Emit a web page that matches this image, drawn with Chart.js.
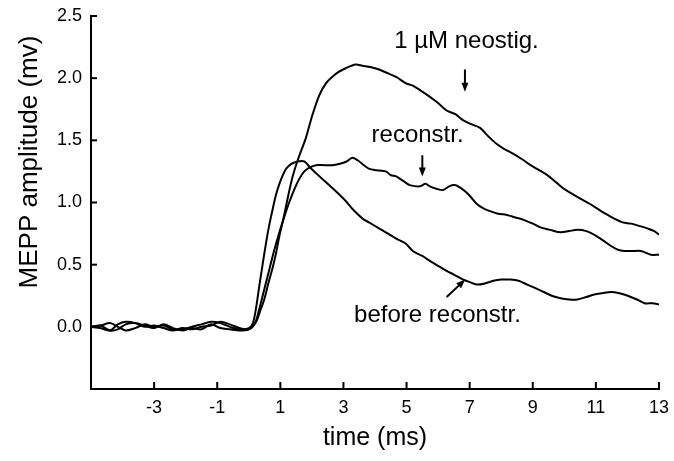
<!DOCTYPE html>
<html>
<head>
<meta charset="utf-8">
<script src="https://cdn.jsdelivr.net/npm/chart.js@4.4.0/dist/chart.umd.min.js"></script>
<style>
  html, body { margin: 0; padding: 0; background: #fff; }
  #wrap { width: 674px; height: 461px; }
</style>
</head>
<body>
<div id="wrap"><canvas id="chartMepp" width="674" height="461"></canvas></div>
<script>
// tick labels
const xTicks = [-3, -1, 1, 3, 5, 7, 9, 11, 13]
const yTicks = [0, 0.5, 1, 1.5, 2, 2.5]

// before reconstr. (time in ms, amplitude in mV)
const timeBefore = [-5, -4.7, -4.4, -4.15, -3.9, -3.6, -3.3, -3.0, -2.7, -2.4, -2.1, -1.8, -1.5, -1.2, -0.9, -0.6, -0.3, 0,
    0.13, 0.23, 0.34, 0.45, 0.55, 0.65, 0.76, 0.86, 0.97, 1.08,
    1.18, 1.35, 1.55, 1.76, 1.95, 2.2, 2.5, 2.76, 3.08, 3.28,
    3.61, 3.81, 4.14, 4.34, 4.67, 4.97, 5.2, 5.5, 5.74, 6.0,
    6.27, 6.5, 6.8, 7.0, 7.22, 7.5, 7.75, 8.0, 8.29, 8.55,
    8.82, 9.1, 9.35, 9.6, 9.88, 10.15, 10.41, 10.7, 10.95, 11.2,
    11.48, 11.75, 12.01, 12.3, 12.54, 12.8, 13.0]
const ampBefore = [0, 0.01, 0.03, 0.0, -0.03, -0.01, 0.02, 0.0, 0.01, -0.02, -0.02, 0.0, 0.02, 0.04, 0.03, 0.0, -0.02, -0.01,
    0.03, 0.15, 0.34, 0.52, 0.68, 0.82, 0.95, 1.06, 1.15, 1.22,
    1.27, 1.31, 1.33, 1.33, 1.28, 1.22, 1.15, 1.09, 1.01, 0.95,
    0.87, 0.84, 0.79, 0.76, 0.71, 0.67, 0.61, 0.57, 0.53, 0.49,
    0.45, 0.42, 0.38, 0.36, 0.34, 0.35, 0.37, 0.38, 0.38, 0.37,
    0.34, 0.31, 0.28, 0.25, 0.23, 0.22, 0.22, 0.24, 0.26, 0.27,
    0.28, 0.27, 0.25, 0.22, 0.19, 0.19, 0.18]

// reconstr.
const timeReconstr = [-5, -4.7, -4.4, -4.15, -3.9, -3.6, -3.3, -3.0, -2.7, -2.4, -2.1, -1.8, -1.5, -1.2, -0.9, -0.6, -0.3, 0,
    0.2, 0.34, 0.5, 0.65, 0.8, 0.97, 1.12, 1.28, 1.45, 1.6,
    1.76, 1.92, 2.13, 2.4, 2.65, 2.86, 3.1, 3.28, 3.45, 3.65,
    3.82, 4.05, 4.34, 4.5, 4.67, 4.97, 5.1, 5.42, 5.6, 5.74,
    5.95, 6.16, 6.35, 6.53, 6.7, 6.9, 7.05, 7.22, 7.45, 7.65,
    7.9, 8.18, 8.45, 8.71, 9.0, 9.24, 9.55, 9.88, 10.15, 10.41,
    10.7, 10.95, 11.2, 11.48, 11.7, 11.9, 12.15, 12.43, 12.75, 13.0]
const ampReconstr = [0, -0.01, -0.03, 0.02, 0.04, 0.03, 0.0, 0.01, -0.01, -0.03, -0.01, -0.02, 0.0, 0.01, 0.04, 0.02, -0.01, -0.02,
    0.03, 0.15, 0.31, 0.46, 0.61, 0.76, 0.88, 1.00, 1.11, 1.19,
    1.25, 1.28, 1.30, 1.30, 1.30, 1.31, 1.33, 1.36, 1.34, 1.30,
    1.27, 1.26, 1.25, 1.22, 1.21, 1.16, 1.14, 1.13, 1.15, 1.13,
    1.11, 1.10, 1.13, 1.14, 1.12, 1.08, 1.04, 0.99, 0.95, 0.93,
    0.91, 0.90, 0.88, 0.86, 0.83, 0.80, 0.78, 0.76, 0.77, 0.78,
    0.77, 0.74, 0.70, 0.65, 0.62, 0.61, 0.61, 0.61, 0.58, 0.58]

// 1 µM neostig.
const timeNeostig = [-5, -4.7, -4.4, -4.15, -3.9, -3.6, -3.3, -3.0, -2.7, -2.4, -2.1, -1.8, -1.5, -1.2, -0.9, -0.6, -0.3, 0,
    0.23, 0.35, 0.49, 0.62, 0.76, 0.87, 0.97, 1.08, 1.18, 1.28,
    1.39, 1.55, 1.81, 2.0, 2.23, 2.45, 2.64, 2.85, 3.07, 3.39,
    3.6, 3.85, 4.13, 4.4, 4.67, 4.97, 5.2, 5.45, 5.74, 6.0,
    6.27, 6.55, 6.8, 7.05, 7.33, 7.6, 7.86, 8.1, 8.4, 8.65,
    8.93, 9.2, 9.46, 9.75, 9.99, 10.25, 10.52, 10.8, 11.05, 11.3,
    11.58, 11.85, 12.11, 12.4, 12.65, 12.85, 13.0]
const ampNeostig = [0, 0.01, -0.03, -0.02, 0.02, 0.03, 0.01, -0.01, 0.02, -0.01, -0.03, -0.01, -0.02, 0.02, -0.01, -0.02, -0.03, -0.02,
    0.04, 0.12, 0.22, 0.35, 0.48, 0.60, 0.73, 0.85, 0.97, 1.09,
    1.21, 1.34, 1.52, 1.69, 1.86, 1.96, 2.01, 2.05, 2.08, 2.11,
    2.10, 2.09, 2.07, 2.04, 2.01, 1.96, 1.94, 1.90, 1.85, 1.80,
    1.74, 1.71, 1.66, 1.63, 1.60, 1.53, 1.47, 1.43, 1.39, 1.35,
    1.30, 1.26, 1.22, 1.16, 1.11, 1.07, 1.03, 0.99, 0.95, 0.91,
    0.87, 0.84, 0.83, 0.81, 0.79, 0.77, 0.74]

// text labels with arrows, in data units: [text, x, y, arrowFrom, arrowTo]
const notes = [
    ['1 µM neostig.', 6.9, 2.24, [6.85, 2.07], [6.85, 1.89]],
    ['reconstr.', 5.35, 1.49, [5.5, 1.38], [5.5, 1.21]],
    ['before reconstr.', 5.98, 0.04, [6.27, 0.24], [6.86, 0.38]]
]

const fontFam = "'Liberation Sans', Arial, Helvetica, sans-serif"

const toPoints = (xs, ys) => xs.map((x, i) => ({ x, y: ys[i] }))

const lineSet = (label, xs, ys) => ({
    label,
    data: toPoints(xs, ys),
    borderColor: '#000',
    borderWidth: 2,
    pointRadius: 0,
    fill: false,
    tension: 0.3
})

const drawArrow = (ctx, x1, y1, x2, y2) => {
    const ang = Math.atan2(y2 - y1, x2 - x1)
    const head = 9
    ctx.beginPath()
    ctx.moveTo(x1, y1)
    ctx.lineTo(x2 - Math.cos(ang) * head * 0.7, y2 - Math.sin(ang) * head * 0.7)
    ctx.stroke()
    ctx.beginPath()
    ctx.moveTo(x2, y2)
    ctx.lineTo(x2 - head * Math.cos(ang) + 3.5 * Math.sin(ang), y2 - head * Math.sin(ang) - 3.5 * Math.cos(ang))
    ctx.lineTo(x2 - head * Math.cos(ang) - 3.5 * Math.sin(ang), y2 - head * Math.sin(ang) + 3.5 * Math.cos(ang))
    ctx.closePath()
    ctx.fill()
}

const extras = {
    id: 'extras',
    afterDraw(chart) {
        const { ctx, scales: { x, y } } = chart
        ctx.save()
        ctx.strokeStyle = '#000'
        ctx.fillStyle = '#000'
        ctx.lineWidth = 2
        // inward tick marks
        xTicks.forEach(v => {
            const px = x.getPixelForValue(v)
            ctx.beginPath()
            ctx.moveTo(px, y.bottom)
            ctx.lineTo(px, y.bottom - 7)
            ctx.stroke()
        })
        yTicks.forEach(v => {
            const py = y.getPixelForValue(v)
            ctx.beginPath()
            ctx.moveTo(x.left, py)
            ctx.lineTo(x.left + 6, py)
            ctx.stroke()
        })
        // notes
        ctx.font = '24px ' + fontFam
        ctx.textAlign = 'center'
        ctx.textBaseline = 'alphabetic'
        notes.forEach(([text, tx, ty, from, to]) => {
            ctx.fillText(text, x.getPixelForValue(tx), y.getPixelForValue(ty))
            ctx.lineWidth = 2
            drawArrow(ctx, x.getPixelForValue(from[0]), y.getPixelForValue(from[1]),
                x.getPixelForValue(to[0]), y.getPixelForValue(to[1]))
        })
        // y axis title
        ctx.translate(30, 162)
        ctx.rotate(-Math.PI / 2)
        ctx.font = '26px ' + fontFam
        ctx.textBaseline = 'middle'
        ctx.fillText('MEPP amplitude (mv)', 0, 0)
        ctx.restore()
    }
}

const chartMepp = new Chart(document.getElementById('chartMepp').getContext('2d'), {
    type: 'line',
    data: {
        datasets: [
            lineSet('before reconstr.', timeBefore, ampBefore),
            lineSet('reconstr.', timeReconstr, ampReconstr),
            lineSet('1 µM neostig.', timeNeostig, ampNeostig)
        ]
    },
    options: {
        responsive: false,
        animation: false,
        layout: { padding: { top: 16, right: 15, left: 0, bottom: 0 } },
        plugins: {
            legend: { display: false },
            tooltip: { enabled: false }
        },
        scales: {
            x: {
                type: 'linear',
                min: -5,
                max: 13,
                afterBuildTicks: s => { s.ticks = xTicks.map(v => ({ value: v })) },
                afterFit: s => { s.height = 72 },
                grid: { display: false },
                border: { display: true, color: '#000', width: 2 },
                ticks: {
                    color: '#000',
                    font: { family: fontFam, size: 18 },
                    padding: 0,
                    maxRotation: 0,
                    autoSkip: false
                },
                title: {
                    display: true,
                    text: 'time (ms)',
                    color: '#000',
                    font: { family: fontFam, size: 25 },
                    padding: { top: 0, bottom: 8 }
                }
            },
            y: {
                min: -0.5,
                max: 2.5,
                afterFit: s => { s.width = 91 },
                grid: { display: false },
                border: { display: true, color: '#000', width: 2 },
                ticks: {
                    stepSize: 0.5,
                    color: '#000',
                    font: { family: fontFam, size: 18 },
                    padding: 1,
                    callback: v => v < 0 ? '' : v.toFixed(1)
                }
            }
        }
    },
    plugins: [extras]
})
</script>
</body>
</html>
